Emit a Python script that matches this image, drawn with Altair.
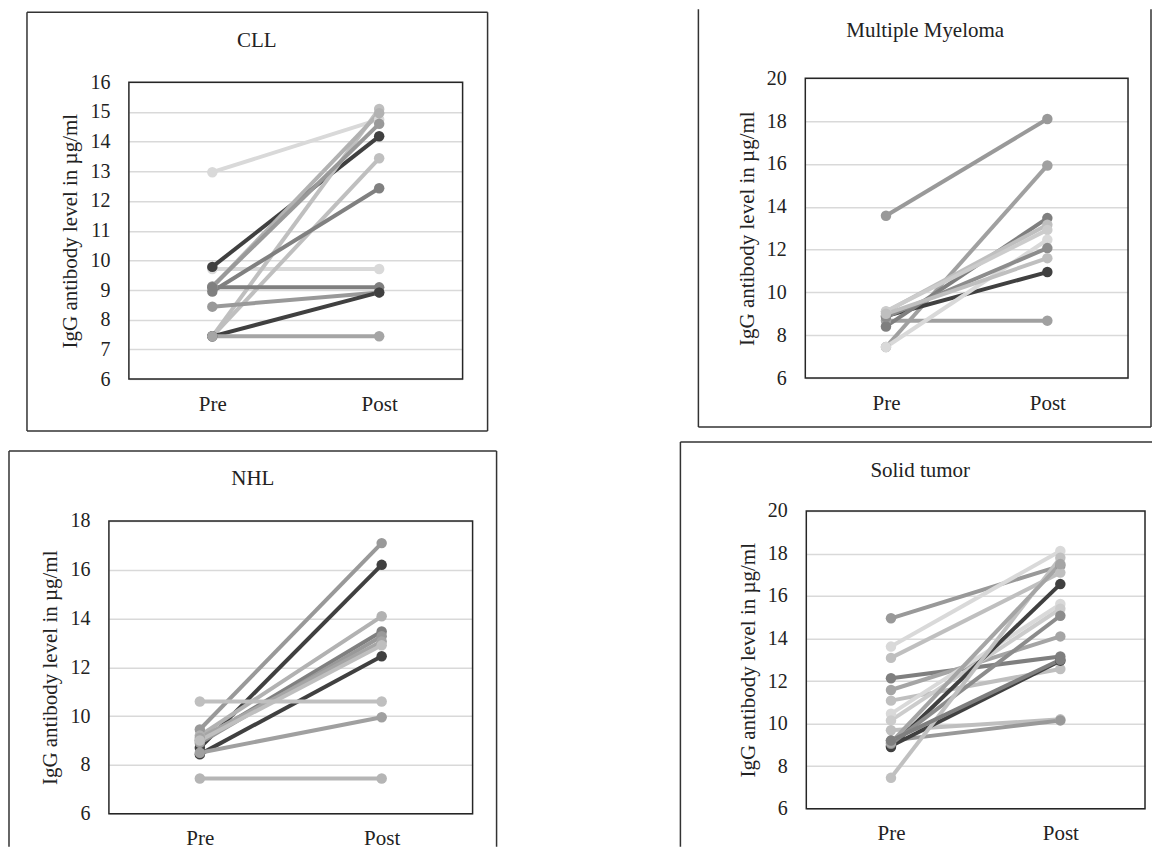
import altair as alt
import pandas as pd

FONT = "Liberation Serif"
TXT = "#222222"
YTITLE = "IgG antibody level in µg/ml"
TIMES = ["Pre", "Post"]

# ---- data ----
cll_pre  = [12.97, 9.71, 9.78, 7.44, 7.44, 9.10, 9.12, 8.95, 9.09, 8.44, 7.44, 7.44]
cll_post = [14.75, 9.71, 14.18, 15.10, 13.44, 14.96, 14.60, 12.43, 9.09, 8.92, 8.92, 7.44]
cll_col  = ["#d9d9d9", "#d9d9d9", "#404040", "#bfbfbf", "#bfbfbf", "#b2b2b2",
            "#999999", "#808080", "#7f7f7f", "#999999", "#404040", "#a5a5a5"]

mm_pre  = [13.58, 7.45, 8.68, 8.90, 8.41, 9.10, 9.12, 7.45, 8.85, 9.00]
mm_post = [18.10, 15.93, 8.68, 10.95, 13.47, 13.16, 12.92, 12.46, 12.07, 11.60]
mm_col  = ["#999999", "#a0a0a0", "#a0a0a0", "#404040", "#7f7f7f", "#bfbfbf",
           "#cccccc", "#d9d9d9", "#8c8c8c", "#bfbfbf"]

nhl_pre  = [9.45, 8.70, 9.20, 9.00, 8.90, 9.10, 9.00, 8.43, 10.60, 8.50, 7.44]
nhl_post = [17.09, 16.20, 14.09, 13.47, 13.27, 13.06, 12.90, 12.45, 10.60, 9.95, 7.44]
nhl_col  = ["#999999", "#404040", "#b2b2b2", "#808080", "#999999", "#a5a5a5",
            "#bfbfbf", "#404040", "#bfbfbf", "#a0a0a0", "#b5b5b5"]

st_pre  = [14.95, 13.62, 13.09, 12.13, 11.58, 11.08, 10.46, 10.15, 9.69, 9.20,
           8.90, 8.95, 9.05, 7.45, 9.10, 9.20]
st_post = [17.42, 18.12, 17.10, 13.16, 14.10, 12.57, 15.62, 15.40, 10.20, 10.15,
           16.56, 12.96, 15.07, 17.80, 17.50, 13.00]
st_col  = ["#999999", "#d9d9d9", "#bfbfbf", "#7f7f7f", "#a5a5a5", "#bfbfbf",
           "#d9d9d9", "#cccccc", "#bfbfbf", "#999999", "#404040", "#404040",
           "#8c8c8c", "#c0c0c0", "#a5a5a5", "#7f7f7f"]

ONE = alt.Data(values=[{"k": 1}])


def rule_h(x1, x2, y):
    return alt.Chart(ONE).mark_rule(color="#333333", strokeWidth=1.5).encode(
        x=alt.value(x1), x2=alt.value(x2), y=alt.value(y))


def rule_v(x, y1, y2):
    return alt.Chart(ONE).mark_rule(color="#333333", strokeWidth=1.5).encode(
        x=alt.value(x), y=alt.value(y1), y2=alt.value(y2))


def panel(name, pre, post, cols, ymax, ystep, W, H, frame, title_xy, box):
    fx1, fx2, fy1, fy2 = frame
    rows = []
    for i, (a, b, c) in enumerate(zip(pre, post, cols)):
        rows.append({"id": i, "time": "Pre", "value": a, "col": c, "o": 0})
        rows.append({"id": i, "time": "Post", "value": b, "col": c, "o": 1})
    df = pd.DataFrame(rows)
    ticks = list(range(6, ymax + 1, ystep))

    xs = alt.X("time:N", sort=TIMES,
               scale=alt.Scale(type="point", range=[fx1, fx2], padding=0.5),
               axis=alt.Axis(title=None, labelAngle=0, ticks=False, domain=False,
                             grid=False, offset=-(H - fy2), labelPadding=14,
                             labelFont=FONT, labelFontSize=21, labelColor=TXT))
    ys = alt.Y("value:Q",
               scale=alt.Scale(domain=[6, ymax], range=[fy2, fy1], nice=False, zero=False),
               axis=alt.Axis(title=YTITLE, values=ticks, grid=True, gridColor="#d9d9d9",
                             gridWidth=1.5, ticks=False, domain=False, offset=-fx1,
                             labelPadding=19, labelFont=FONT, labelFontSize=20,
                             labelColor=TXT, titleFont=FONT, titleFontSize=21,
                             titleFontWeight="normal", titleColor=TXT, titlePadding=9))
    color = alt.Color("col:N", scale=None)

    base = alt.Chart(df)
    lines = base.mark_line(strokeWidth=4).encode(
        x=xs, y=ys, detail="id:N", color=color, order="o:Q")
    pts = base.mark_circle(size=110, opacity=1).encode(x=xs, y=ys, color=color)

    frame_rect = alt.Chart(ONE).mark_rect(fillOpacity=0, stroke="#262626",
                                          strokeWidth=1.5).encode(
        x=alt.value(fx1), x2=alt.value(fx2), y=alt.value(fy1), y2=alt.value(fy2))

    title = alt.Chart(alt.Data(values=[{"t": name}])).mark_text(
        font=FONT, fontSize=21, color=TXT, align="center", baseline="middle").encode(
        x=alt.value(title_xy[0]), y=alt.value(title_xy[1]), text="t:N")

    layers = list(box) + [lines, pts, frame_rect, title]
    return alt.layer(*layers).properties(width=W, height=H)


# cells: col1 width 672, col2 width 473; row1 height 428, row2 height 410
p_cll = panel("CLL", cll_pre, cll_post, cll_col, 16, 1, 672, 428,
              (121, 455, 73, 370), (249, 32),
              [rule_h(19, 480, 3), rule_h(19, 480, 422), rule_v(19, 3, 422), rule_v(480, 3, 422)])
p_mm = panel("Multiple Myeloma", mm_pre, mm_post, mm_col, 20, 2, 473, 428,
             (126, 449, 69, 369), (246, 22),
             [rule_v(19, 0, 418), rule_v(472, 0, 418), rule_h(19, 472, 418)])
p_nhl = panel("NHL", nhl_pre, nhl_post, nhl_col, 18, 2, 672, 410,
              (101, 465, 84, 377), (245, 42),
              [rule_v(1, 14, 410), rule_v(489, 14, 410), rule_h(1, 489, 14)])
p_st = panel("Solid tumor", st_pre, st_post, st_col, 20, 2, 473, 410,
             (127, 466, 74, 372), (241, 34),
             [rule_v(1, 5, 410), rule_h(1, 473, 5)])

chart = alt.concat(p_cll, p_mm, p_nhl, p_st, columns=2, spacing=0, bounds="flush").properties(
    padding=0, background="white"
).configure_view(stroke=None).configure_axis(
    labelFont=FONT, titleFont=FONT
).configure_text(font=FONT)

chart.save("out.html", embed_options={"renderer": "svg", "actions": False})
